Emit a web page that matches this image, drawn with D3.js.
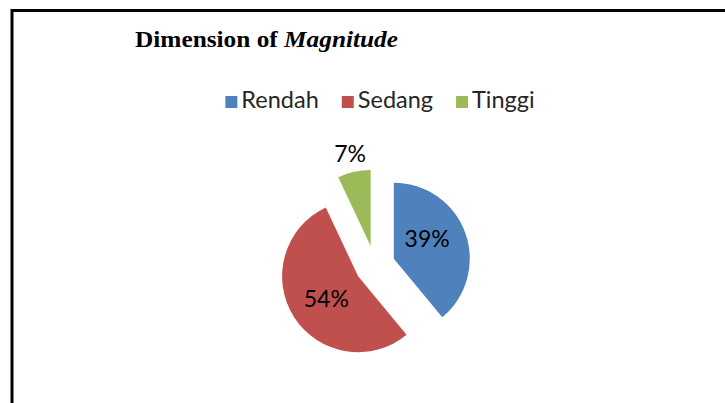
<!DOCTYPE html>
<html>
<head>
<meta charset="utf-8">
<script src="https://cdn.jsdelivr.net/npm/d3@7"></script>
<style>
  html, body { margin: 0; padding: 0; background: #fff; }
  svg { display: block; }
</style>
</head>
<body>
<svg id="chart" width="725" height="403"></svg>
<script>
// chart data
const categories = ['Rendah', 'Sedang', 'Tinggi'];
const values = [39, 54, 7];
const colors = ['#4F81BD', '#C0504D', '#9BBB59'];

const W = 725, H = 403;
const svg = d3.select('#chart');

// frame (only top + left visible in the crop)
svg.append('path')
  .attr('d', `M12,${H + 5} L12,10.5 L${W + 5},10.5`)
  .attr('fill', 'none')
  .attr('stroke', '#000')
  .attr('stroke-width', 3);

// title
const title = svg.append('text')
  .attr('x', 135)
  .attr('y', 47)
  .attr('font-family', '"Liberation Serif", "Times New Roman", serif')
  .attr('font-weight', 'bold')
  .attr('font-size', 24)
  .attr('textLength', 263)
  .attr('lengthAdjust', 'spacingAndGlyphs')
  .attr('fill', '#000');
title.append('tspan').text('Dimension of ');
title.append('tspan').attr('font-style', 'italic').text('Magnitude');

// legend
const legendFont = 'Lato, Calibri, "Noto Sans", sans-serif';
const legend = svg.append('g');
const items = legend.selectAll('g.item')
  .data(categories)
  .enter().append('g')
  .attr('class', 'item');
items.append('rect')
  .attr('width', 12)
  .attr('height', 12)
  .attr('y', 96)
  .attr('fill', (d, i) => colors[i]);
items.append('text')
  .attr('x', 16)
  .attr('y', 108)
  .attr('font-family', legendFont)
  .attr('font-size', 23.5)
  .attr('fill', '#262626')
  .text(d => d);
let lx = 0;
const gap = 23;
items.each(function() {
  const w = 16 + this.querySelector('text').getComputedTextLength();
  d3.select(this).attr('transform', `translate(${lx},0)`);
  lx += w + gap;
});
const legendW = lx - gap;
legend.attr('transform', `translate(${380 - legendW / 2},0)`);

// pie
const cx = 375, cy = 265.5, r = 76, explode = 20;
const pie = d3.pie().sort(null).value(d => d);
const arcs = pie(values);
const arc = d3.arc().innerRadius(0).outerRadius(r);

const offset = d => {
  const a = (d.startAngle + d.endAngle) / 2;
  return [Math.sin(a) * explode, -Math.cos(a) * explode];
};

const g = svg.append('g').attr('transform', `translate(${cx},${cy})`);
const slices = g.selectAll('g.slice')
  .data(arcs)
  .enter().append('g')
  .attr('class', 'slice')
  .attr('transform', d => `translate(${offset(d)})`);

slices.append('path')
  .attr('d', arc)
  .attr('fill', (d, i) => colors[i]);

// labels: inside for big slices, outside for the small one
slices.append('text')
  .attr('transform', d => {
    const a = (d.startAngle + d.endAngle) / 2;
    const small = d.endAngle - d.startAngle < 0.5;
    const rr = small ? r + 18 : 39;
    const da = small ? 0 : (d.index === 0 ? -0.2 : -0.05);
    return `translate(${Math.sin(a + da) * rr},${-Math.cos(a + da) * rr})`;
  })
  .attr('text-anchor', 'middle')
  .attr('dy', '0.35em')
  .attr('font-family', legendFont)
  .attr('font-size', 23)
  .attr('fill', '#000')
  .text(d => d.data + '%');
</script>
</body>
</html>
